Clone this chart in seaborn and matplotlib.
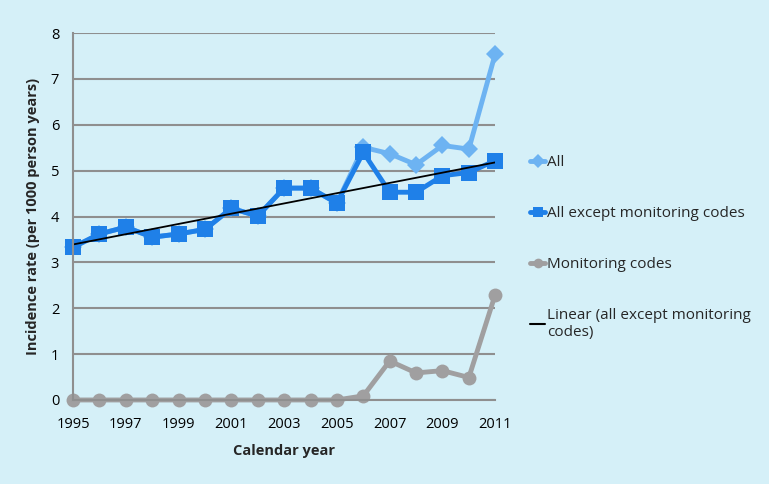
import matplotlib
matplotlib.use('Agg')
from matplotlib import pyplot as plt
import numpy as np
import pandas as pd
import seaborn as sns

years = list(range(1995, 2012))
all_codes = [3.33, 3.62, 3.77, 3.55, 3.62, 3.72, 4.18, 4.01, 4.62, 4.62, 4.29,
             5.51, 5.37, 5.13, 5.55, 5.47, 7.55]
except_monitoring = [3.33, 3.62, 3.77, 3.55, 3.62, 3.72, 4.18, 4.01, 4.62, 4.62, 4.29,
                     5.40, 4.53, 4.53, 4.89, 4.96, 5.22]
monitoring = [0, 0, 0, 0, 0, 0, 0, 0, 0, 0, 0,
              0.09, 0.85, 0.59, 0.64, 0.49, 2.30]
year_labels = [1995, 1997, 1999, 2001, 2003, 2005, 2007, 2009, 2011]

df = pd.DataFrame({'year': years, 'all': all_codes,
                   'except': except_monitoring, 'monitoring': monitoring})

bg = '#d5f0f8'
sns.set_style('white')
plt.rcParams['font.family'] = ['Open Sans', 'DejaVu Sans']

fig = plt.figure(figsize=(7.69, 4.84), dpi=100, facecolor=bg)
ax = fig.add_axes([0.095, 0.1736, 0.549, 0.758])
ax.set_facecolor(bg)

sns.lineplot(data=df, x='year', y='all', ax=ax, color='#6db3f2', lw=3.5,
             marker='D', markersize=9, markeredgewidth=0, label='All', clip_on=False)
sns.lineplot(data=df, x='year', y='except', ax=ax, color='#1f80e8', lw=3.5,
             marker='s', markersize=12, markeredgewidth=0,
             label='All except monitoring codes', clip_on=False)
sns.lineplot(data=df, x='year', y='monitoring', ax=ax, color='#a09fa0', lw=3.5,
             marker='o', markersize=10, markeredgewidth=0, label='Monitoring codes',
             clip_on=False)
sns.regplot(data=df, x='year', y='except', ax=ax, scatter=False, ci=None,
            color='black', line_kws=dict(lw=1.3),
            label='Linear (all except monitoring\ncodes)')

ax.set_xlim(1995, 2011)
ax.set_ylim(0, 8)
ax.set_xticks(year_labels)
ax.set_yticks(range(0, 9))
ax.grid(axis='y', color='#8f8f8f', lw=1.5)
ax.set_axisbelow(True)
for s in ['top', 'right']:
    ax.spines[s].set_visible(False)
for s in ['left', 'bottom']:
    ax.spines[s].set_color('#8f8f8f')
    ax.spines[s].set_linewidth(1.5)
ax.tick_params(axis='both', colors='#8f8f8f', labelcolor='black', labelsize=10.5,
               length=5, width=1.5)
ax.tick_params(axis='y', pad=5)
ax.tick_params(axis='x', pad=7)
ax.set_xlabel('Calendar year', fontweight='bold', fontsize=10.5, labelpad=9)
ax.set_ylabel('Incidence rate (per 1000 person years)', fontweight='bold', fontsize=10.5,
              labelpad=8)

leg = ax.legend(loc='upper left', bbox_to_anchor=(1.05, 0.705), frameon=False,
                fontsize=11, handlelength=1.0, handletextpad=0.1, labelspacing=2.35)
for line in leg.get_lines():
    line.set_linewidth(3.5)
    line.set_markersize(7)
leg.get_lines()[3].set_linewidth(1.5)

fig.savefig('out.png', dpi=100, facecolor=bg)
